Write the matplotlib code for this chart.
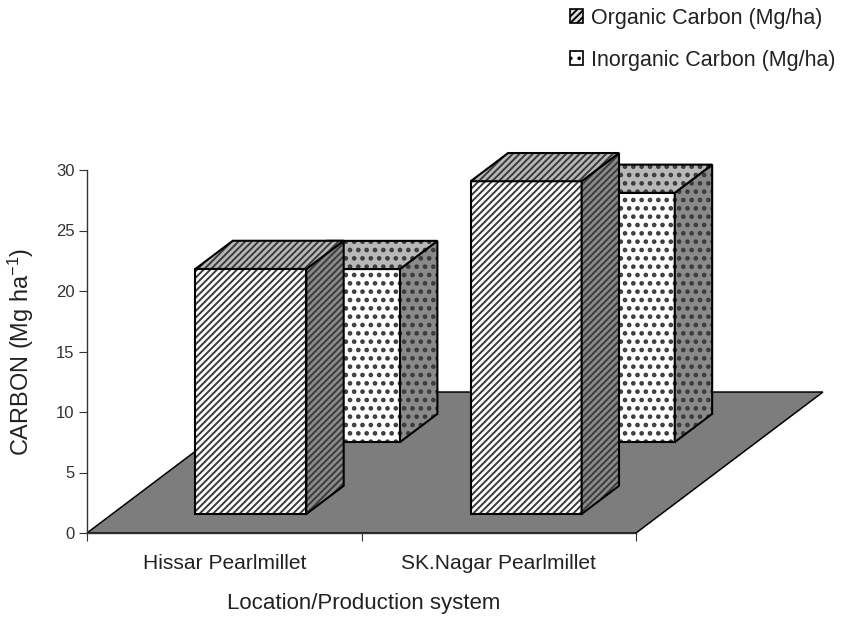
import matplotlib
matplotlib.use('Agg')
import matplotlib.pyplot as plt
from matplotlib.patches import Polygon, Patch

plt.rcParams['font.family'] = ['Liberation Sans', 'DejaVu Sans']
plt.rcParams['mathtext.default'] = 'regular'
plt.rcParams['hatch.linewidth'] = 1.4

categories = ['Hissar Pearlmillet', 'SK.Nagar Pearlmillet']
label_pos = [0.5, 1.5]
organic_pos = [0.505, 1.508]
inorganic_pos = [0.499, 1.5]
organic = [20.25, 27.5]
inorganic = [14.3, 20.6]
series_names = ['Organic Carbon (Mg/ha)', 'Inorganic Carbon (Mg/ha)']

# oblique projection, all in axis units
depth_x = 0.681
depth_y = 11.65
bar_w = 0.404
bar_d = 0.2


def proj(x, y, d):
    return (x + d * depth_x, y + d * depth_y)


def bar3d(ax, xc, h, d0, hatch, hatch_lw):
    x0, x1 = xc - bar_w / 2, xc + bar_w / 2
    d1 = d0 + bar_d
    front = [proj(x0, 0, d0), proj(x1, 0, d0), proj(x1, h, d0), proj(x0, h, d0)]
    side = [proj(x1, 0, d0), proj(x1, 0, d1), proj(x1, h, d1), proj(x1, h, d0)]
    top = [proj(x0, h, d0), proj(x1, h, d0), proj(x1, h, d1), proj(x0, h, d1)]
    for pts, col in [(front, 'white'), (side, '#8a8a8a'), (top, '#b8b8b8')]:
        # hatch first in dark grey, then the black outline on top
        p = ax.add_patch(Polygon(pts, closed=True, facecolor=col, edgecolor='#3a3a3a',
                                 hatch=hatch, lw=0, clip_on=False))
        if hasattr(p, 'set_hatch_linewidth'):
            p.set_hatch_linewidth(hatch_lw)
        ax.add_patch(Polygon(pts, closed=True, fill=False, edgecolor='black',
                             lw=1.5, clip_on=False, joinstyle='miter'))


fig = plt.figure(figsize=(8.43, 6.17), dpi=100)
ax = fig.add_axes([87 / 843, 1 - 533 / 617, 549 / 843, 363 / 617])
ax.set_xlim(0, 2)
ax.set_ylim(0, 30)

floor = [proj(0, 0, 0), proj(2, 0, 0), proj(2, 0, 1), proj(0, 0, 1)]
ax.add_patch(Polygon(floor, closed=True, facecolor='#7d7d7d', edgecolor='black', lw=1.1, clip_on=False))

for i in range(2):
    bar3d(ax, inorganic_pos[i], inorganic[i], 0.645, '..', 2.1)
    bar3d(ax, organic_pos[i], organic[i], 0.135, '/////', 1.4)

for s in ['top', 'right']:
    ax.spines[s].set_visible(False)
for s in ['left', 'bottom']:
    ax.spines[s].set_color('#333333')
    ax.spines[s].set_linewidth(1.0)
    ax.spines[s].set_zorder(5)

ax.set_yticks(range(0, 31, 5))
ax.set_xticks([0, 1, 2])
ax.set_xticklabels([])
ax.set_xticks(label_pos, minor=True)
ax.set_xticklabels(categories, minor=True, fontsize=15.1, color='#222222')
ax.tick_params(axis='x', which='minor', length=0, pad=15)
ax.tick_params(axis='x', which='major', length=6, color='#333333')
ax.tick_params(axis='y', length=6, color='#333333', labelsize=12, labelcolor='#333333', pad=3)

fig.text(364 / 843, 1 - 603 / 617, 'Location/Production system', fontsize=16, color='#222222',
         ha='center', va='center')
fig.text(21 / 843, 1 - 352 / 617, 'CARBON (Mg ha$^{-1}$)', fontsize=16.9, color='#222222',
         rotation=90, ha='center', va='center')

handles = [Patch(facecolor='#dddddd', edgecolor='black', hatch='/////', lw=1.2),
           Patch(facecolor='white', edgecolor='black', hatch='..', lw=1.2)]
fig.legend(handles, series_names, loc='upper right', bbox_to_anchor=(846 / 843, 1 + 3 / 617),
           frameon=False, fontsize=15.5, handlelength=0.6, handleheight=0.6,
           handletextpad=0.36, labelspacing=0.97, labelcolor='#222222',
           borderaxespad=0, borderpad=0.5)

fig.savefig('out.png', dpi=100)
